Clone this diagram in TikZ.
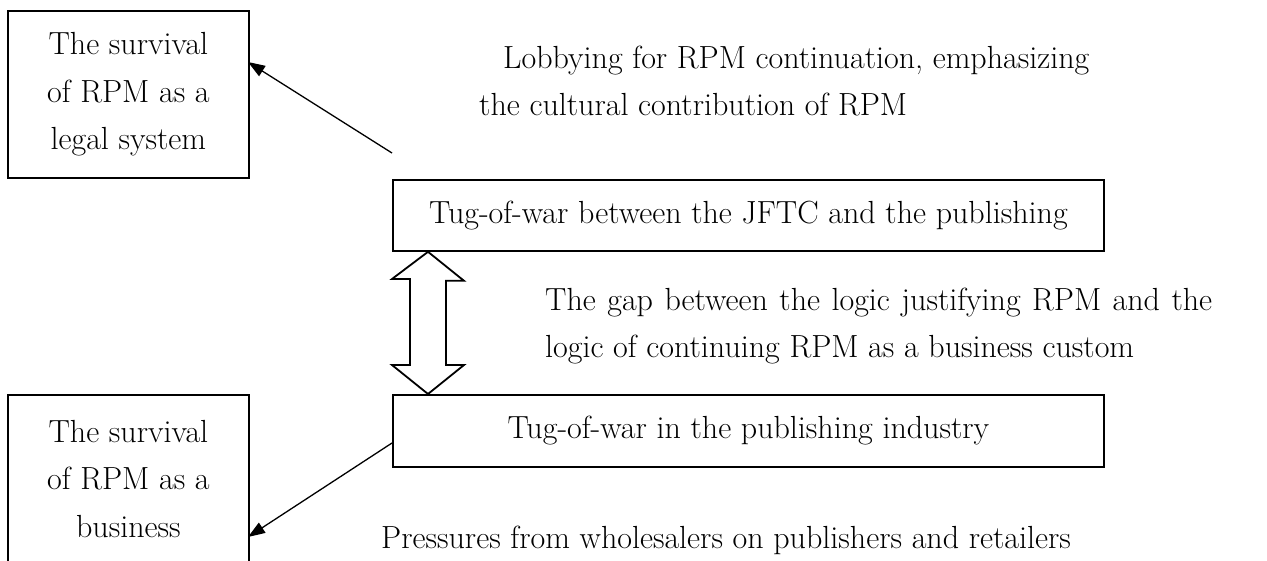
\documentclass[tikz,border=0pt]{standalone}
\usetikzlibrary{arrows.meta}
\begin{document}
\begin{tikzpicture}[x=1pt,y=-1pt,
  txt/.style={font=\fontsize{32}{47.5}\selectfont, inner sep=0pt},
  box/.style={draw=black, line width=1.8pt, txt, align=center},
  arr/.style={line width=1.3pt, -{Triangle[length=17pt,width=12pt]}},
  dbl/.style={draw=black, line width=1.8pt, fill=white, line join=miter}]
\fill[white] (0,0) rectangle (1267,560);
\useasboundingbox (0,0) rectangle (1267,560);

% boxes
\node[box, anchor=north west, minimum width=241pt, minimum height=167pt] (legal) at (7,10)
  {The survival\\of RPM as a\\legal system};
\node[box, anchor=north west, minimum width=241pt, minimum height=168pt] (business) at (7,394)
  {The survival\\of RPM as a\\business};
\node[box, anchor=north west, minimum width=711pt, minimum height=71pt] (jftc) at (392,179)
  {Tug-of-war between the JFTC and the publishing};
\node[box, anchor=north west, minimum width=711pt, minimum height=72pt] (industry) at (392,394)
  {Tug-of-war in the publishing industry};

% free texts
\node[txt, anchor=north west, align=left] (lobby) at (479,35)
  {\strut\hspace*{24pt}Lobbying for RPM continuation, emphasizing\\the cultural contribution of RPM};
\node[txt, anchor=north west, text width=667pt, align=justify] (gap) at (545,277)
  {\strut The gap between the logic justifying RPM and the\linebreak logic of continuing RPM as a business custom};
\node[txt, anchor=base west] (press) at (381,548)
  {Pressures from wholesalers on publishers and retailers};

% connectors
\coordinate (t1) at (392,153);
\coordinate (h1) at (248,62);
\coordinate (t2) at (392,443);
\coordinate (h2) at (248,537);
\draw[arr] (t1) -- (h1);
\draw[arr] (t2) -- (h2);

% double arrow between the two tug-of-war boxes
\coordinate (dtop) at (jftc.south west -| 428,0);
\coordinate (dbot) at (industry.north west -| 428,0);
\draw[dbl] (dtop) -- ++(36,29) -- ++(-18,0) -- (446,365) -- (464,365)
  -- (dbot) -- (392,365) -- (410,365) -- (410,279) -- (392,279) -- cycle;
\end{tikzpicture}
\end{document}
